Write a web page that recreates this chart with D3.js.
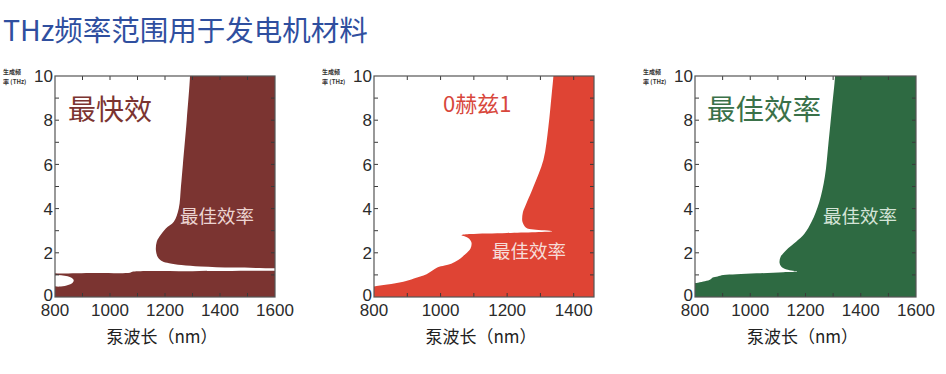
<!DOCTYPE html>
<html>
<head>
<meta charset="utf-8">
<script src="https://cdn.jsdelivr.net/npm/d3@7"></script>
<style>
  body { margin: 0; background: #fff; }
  svg { display: block; }
  .tick-label { font-family: "Liberation Sans", Arial, sans-serif; font-size: 17px; fill: #2b2b2b; }
  .cjk { font-family: "Noto Sans CJK SC", "Noto Sans", sans-serif; }
</style>
</head>
<body>
<svg width="946" height="374"></svg>
<script>
// tick values
const yTicks = [0, 2, 4, 6, 8, 10];
const xTicksWide = [800, 1000, 1200, 1400, 1600];
const xTicksNarrow = [800, 1000, 1200, 1400];

// boundary of the shaded regions, [pump wavelength nm, THz]
const fastUpper = [
  [1650, 1.30], [1600, 1.30], [1450, 1.33], [1330, 1.38], [1260, 1.45], [1215, 1.53],
  [1190, 1.62], [1174, 1.8], [1167, 2.1], [1170, 2.5], [1184, 2.8], [1203, 3.1],
  [1232, 3.4], [1250, 4.0], [1258, 5.0], [1265, 6.0], [1279, 8.0], [1291, 10], [1292, 10.6],
  [1700, 10.6], [1700, 1.30]
];
const fastLower = [
  [760, -1], [1700, -1], [1700, 1.19], [1600, 1.19], [1300, 1.17], [1085, 1.15],
  [1073, 1.10], [950, 1.09], [880, 1.08], [820, 1.06], [790, 1.06], [790, 1.0],
  [810, 0.99], [835, 0.96], [856, 0.89], [868, 0.76], [862, 0.62], [842, 0.52],
  [815, 0.47], [790, 0.45]
];
const thzRegion = [
  [790, 0.45], [800, 0.47], [840, 0.56], [888, 0.69], [920, 0.84], [958, 1.03],
  [990, 1.33], [1012, 1.42], [1032, 1.5], [1053, 1.67], [1075, 1.95], [1090, 2.2],
  [1093, 2.45], [1086, 2.64], [1072, 2.75], [1063, 2.8], [1090, 2.85], [1200, 2.9],
  [1335, 2.98], [1280, 3.05], [1256, 3.15], [1246, 3.4], [1247, 3.8], [1254, 4.09],
  [1279, 4.99], [1309, 6.2], [1324, 7.7], [1334, 9.2], [1339, 10], [1340, 10.6],
  [1560, 10.6], [1560, -1], [760, -1]
];
const bestRegion = [
  [760, -1], [790, 0.62], [805, 0.63], [830, 0.7], [852, 0.77], [858, 0.81],
  [864, 0.88], [882, 0.93], [902, 0.99], [950, 1.03], [1023, 1.07], [1120, 1.12],
  [1170, 1.15], [1132, 1.24], [1112, 1.38], [1106, 1.55], [1110, 1.82], [1130, 2.12],
  [1166, 2.5], [1196, 2.86], [1222, 3.4], [1250, 4.3], [1270, 5.44], [1283, 6.95],
  [1295, 8.46], [1307, 10], [1308, 10.6], [1700, 10.6], [1700, -1]
];

const svg = d3.select("svg");

svg.append("text")
  .attr("class", "cjk")
  .attr("x", 3).attr("y", 41)
  .style("font-size", "28.5px")
  .style("fill", "#2f4f9f")
  .text("THz频率范围用于发电机材料");

const panels = [
  {
    left: 55, right: 275, xDomain: [800, 1600], xTicks: xTicksWide, color: "#7b3431",
    regions: [fastUpper, fastLower],
    big: { text: "最快效", x: 68, y: 120, size: 28, color: "#7b3431" },
    small: { x: 180, y: 223, color: "#ecd4d1" }
  },
  {
    left: 374, right: 594, xDomain: [800, 1461], xTicks: xTicksNarrow, color: "#df4434",
    regions: [thzRegion],
    big: { text: "0赫兹1", x: 443, y: 112, size: 22, color: "#d8473c" },
    small: { x: 492, y: 258, color: "#f6dcd8" }
  },
  {
    left: 695, right: 916, xDomain: [800, 1600], xTicks: xTicksWide, color: "#2e6a42",
    regions: [bestRegion],
    big: { text: "最佳效率", x: 707, y: 120, size: 28.5, color: "#3a7149" },
    small: { x: 823, y: 223, color: "#d4e4d7" }
  }
];

const plotTop = 76, plotBottom = 297;

panels.forEach((p, i) => {
  const x = d3.scaleLinear().domain(p.xDomain).range([p.left, p.right]);
  const y = d3.scaleLinear().domain([0, 10]).range([plotBottom, plotTop]);
  const g = svg.append("g");

  const clipId = "clip" + i;
  g.append("clipPath").attr("id", clipId)
    .append("rect")
    .attr("x", p.left).attr("y", plotTop)
    .attr("width", p.right - p.left).attr("height", plotBottom - plotTop);

  const line = d3.line()
    .x(d => x(d[0]))
    .y(d => y(d[1]))
    .curve(d3.curveCatmullRomClosed.alpha(0.5));

  g.append("g").attr("clip-path", `url(#${clipId})`)
    .selectAll("path")
    .data(p.regions)
    .enter()
    .append("path")
    .attr("d", line)
    .style("fill", p.color);

  // inward ticks on all four sides
  const xMinor = d3.range(p.xDomain[0] + 100, p.xDomain[1], 100);
  const yMinor = d3.range(1, 10, 1);
  const tl = 4;
  const tk = g.append("g").style("stroke", "#3a3a3a").style("stroke-width", 1);
  tk.selectAll(".xb").data(xMinor).enter().append("line")
    .attr("x1", d => x(d)).attr("x2", d => x(d))
    .attr("y1", plotBottom).attr("y2", plotBottom - tl);
  tk.selectAll(".xt").data(xMinor).enter().append("line")
    .attr("x1", d => x(d)).attr("x2", d => x(d))
    .attr("y1", plotTop).attr("y2", plotTop + tl);
  tk.selectAll(".yl").data(yMinor).enter().append("line")
    .attr("x1", p.left).attr("x2", p.left + tl)
    .attr("y1", d => y(d)).attr("y2", d => y(d));
  tk.selectAll(".yr").data(yMinor).enter().append("line")
    .attr("x1", p.right).attr("x2", p.right - tl)
    .attr("y1", d => y(d)).attr("y2", d => y(d));

  g.append("rect")
    .attr("x", p.left).attr("y", plotTop)
    .attr("width", p.right - p.left).attr("height", plotBottom - plotTop)
    .style("fill", "none").style("stroke", "#555").style("stroke-width", 1.2);

  // the 0 label sits a little above its tick, as in the original
  g.selectAll(".ylab").data(yTicks).enter().append("text")
    .attr("class", "tick-label")
    .attr("x", p.left - 2)
    .attr("y", d => y(d) - (d === 0 ? 2.5 : 0))
    .attr("dy", "0.36em")
    .attr("text-anchor", "end")
    .text(d => d);

  g.selectAll(".xlab").data(p.xTicks).enter().append("text")
    .attr("class", "tick-label")
    .attr("x", d => x(d))
    .attr("y", 315.5)
    .attr("text-anchor", "middle")
    .text(d => d);

  g.append("text")
    .attr("class", "cjk")
    .attr("x", (p.left + p.right) / 2 - 3)
    .attr("y", 343)
    .attr("text-anchor", "middle")
    .style("font-size", "17px")
    .style("fill", "#222")
    .text("泵波长（nm）");

  // tiny y-axis title
  const yt = g.append("text")
    .attr("class", "cjk")
    .style("font-size", "6px")
    .style("font-weight", "bold")
    .style("fill", "#333");
  yt.append("tspan").attr("x", p.left - 52).attr("y", 74).text("生成频");
  yt.append("tspan").attr("x", p.left - 52).attr("y", 84).text("率 (THz)");

  g.append("text")
    .attr("class", "cjk")
    .attr("x", p.big.x).attr("y", p.big.y)
    .style("font-size", p.big.size + "px")
    .style("fill", p.big.color)
    .text(p.big.text);

  g.append("text")
    .attr("class", "cjk")
    .attr("x", p.small.x).attr("y", p.small.y)
    .style("font-size", "18.5px")
    .style("fill", p.small.color)
    .text("最佳效率");
});
</script>
</body>
</html>
